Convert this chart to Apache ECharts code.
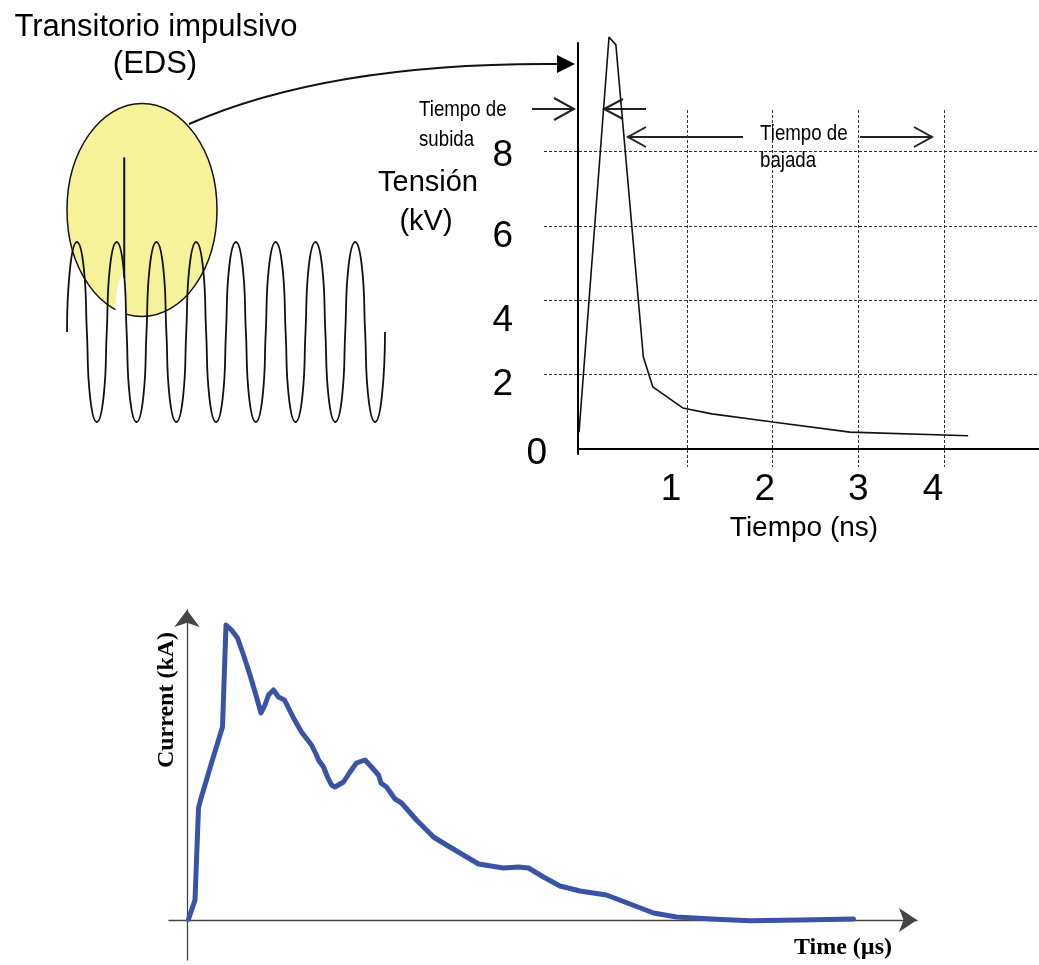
<!DOCTYPE html>
<html><head><meta charset="utf-8">
<script src="https://cdn.jsdelivr.net/npm/echarts@6/dist/echarts.min.js"></script>
<style>html,body{margin:0;padding:0;background:#fff}#c{width:1039px;height:965px}</style>
</head><body><div id="c"></div>
<script>
// ---------- DATA ----------
// Top-right: impulsive transient (ESD) pulse, time in ns, voltage in kV
const pulseTime = [-0.26, 0.09, 0.17, 0.49, 0.60, 0.95, 1.29, 2.00, 2.90, 4.28];
const pulseKV   = [0.44, 11.08, 10.87, 2.47, 1.66, 1.09, 0.93, 0.71, 0.44, 0.34];
const voltTickValues = [0, 2, 4, 6, 8];
const voltTickLabels = ['0', '2', '4', '6', '8'];
const timeTickValues = [1, 2, 3, 4];
const timeTickLabels = ['1', '2', '3', '4'];

// Top-left: power-frequency wave (in cycles, per-unit amplitude) with the spike
const waveX = [0,0.08,0.25,0.42,0.5,0.58,0.75,0.92,
  1,1.08,1.25,1.42,1.5,1.58,1.75,1.92,
  2,2.08,2.25,2.42,2.5,2.58,2.75,2.92,
  3,3.08,3.25,3.42,3.5,3.58,3.75,3.92,
  4,4.08,4.25,4.42,4.5,4.58,4.75,4.92,
  5,5.08,5.25,5.42,5.5,5.58,5.75,5.92,
  6,6.08,6.25,6.42,6.5,6.58,6.75,6.92,
  7,7.08,7.25,7.42,7.5,7.58,7.75,7.92,
  8];
const waveY = [0,0.72,1,0.72,0,-0.72,-1,-0.72,
  0,0.72,1,0.72,0,-0.72,-1,-0.72,
  0,0.72,1,0.72,0,-0.72,-1,-0.72,
  0,0.72,1,0.72,0,-0.72,-1,-0.72,
  0,0.72,1,0.72,0,-0.72,-1,-0.72,
  0,0.72,1,0.72,0,-0.72,-1,-0.72,
  0,0.72,1,0.72,0,-0.72,-1,-0.72,
  0,0.72,1,0.72,0,-0.72,-1,-0.72,
  0];
const spikeX = [1.44, 1.44];
const spikeY = [0.60, 1.94];

// Bottom: lightning current, time in µs, current in kA
const currentTime = [0.03,0.16,0.23,0.27,0.49,0.63,0.71,0.78,0.81,0.89,1.01,1.13,1.26,1.39,1.48,1.56,1.63,1.73,1.83,1.95,2.03,2.13,2.29,2.49,2.59,2.63,2.73,2.81,2.89,2.96,3.13,3.26,3.39,3.56,3.69,3.83,3.88,3.99,4.16,4.29,4.59,4.93,5.19,5.46,5.83,6.33,6.63,6.83,7.13,7.46,7.86,8.39,8.86,9.33,9.79,10.59,11.26,12.26,13.33];
const currentKA   = [0.07,2.0,11.2,12.0,15.7,18.0,19.3,29.5,29.7,29.0,28.2,26.5,24.5,22.3,20.7,21.5,22.5,23.0,22.3,22.0,21.2,20.2,18.8,17.5,16.5,16.0,15.3,14.3,13.5,13.3,13.8,14.8,15.7,16.0,15.3,14.5,13.7,13.3,12.1,11.7,10.0,8.3,7.5,6.7,5.6,5.2,5.3,5.2,4.3,3.4,2.9,2.5,1.6,0.7,0.3,0.07,-0.07,0.0,0.1];

// ---------- STYLE HELPERS ----------
const SANS = '"Liberation Sans", Arial, sans-serif';
const SERIF = '"Liberation Serif", "Times New Roman", serif';
const yShift = {0: [5, 0], 2: [11, 34], 4: [21, 34], 6: [11, 34], 8: [4, 34]}; // [down, left]
const xShift = {1: 16, 2: 8, 3: 0, 4: 11};
const yRich = {}, xRich = {};
voltTickValues.forEach((v, i) => {
  yRich['t' + i] = {fontSize: 37, fontFamily: SANS, color: '#000', padding: [2 * yShift[v][0], yShift[v][1], 0, 0]};
});
timeTickValues.forEach((v, i) => {
  xRich['t' + i] = {fontSize: 37, fontFamily: SANS, color: '#000', padding: [0, 2 * xShift[v], 0, 0]};
});
const dash = {color: '#333', width: 1, type: [3, 2]};
const hidden = {show: false};

function openArrow(tipX, tipY, dir, len, half, tailX) {
  return [
    {type: 'polyline', shape: {points: [[tailX, tipY], [tipX, tipY]]}, style: {stroke: '#222', lineWidth: 2, fill: null}},
    {type: 'polyline', shape: {points: [[tipX - dir * len, tipY - half], [tipX, tipY], [tipX - dir * len, tipY + half]]}, style: {stroke: '#222', lineWidth: 2, fill: null}}
  ];
}
function txt(x, y, text, size, opts) {
  opts = opts || {};
  return {type: 'text', x: x, y: y, rotation: opts.rotation || 0, scaleX: opts.scaleX || 1, z: 100,
    style: {text: text, fontSize: size, fontFamily: opts.family || SANS, fontWeight: opts.weight || 'normal',
      fill: '#000', align: opts.align || 'center', verticalAlign: 'middle'}};
}

const graphics = [
  {type: 'ellipse', shape: {cx: 142, cy: 210, rx: 75, ry: 106.5}, style: {fill: '#F6F29A', stroke: '#111', lineWidth: 1.5}},
  {type: 'polygon', shape: {points: [[115, 320], [116, 296], [119, 280], [123, 274], [126, 276], [127, 320]]}, style: {fill: '#fff'}},
  {type: 'bezierCurve', shape: {x1: 189, y1: 124, cpx1: 330, cpy1: 62, x2: 560, y2: 64}, style: {stroke: '#111', lineWidth: 2, fill: null}},
  {type: 'polygon', shape: {points: [[557, 55], [575, 64], [557, 73]]}, style: {fill: '#000'}},
  ...openArrow(574, 109, 1, 20, 11, 532),
  ...openArrow(604, 109, -1, 19, 10, 646),
  ...openArrow(628, 137, -1, 18, 10, 743),
  ...openArrow(932, 137, 1, 18, 10, 860),
  txt(156, 27, 'Transitorio impulsivo', 31),
  txt(155, 64, '(EDS)', 31),
  txt(428, 183, 'Tensión', 29),
  txt(426, 222, '(kV)', 29),
  txt(804, 528, 'Tiempo (ns)', 28),
  txt(419, 110, 'Tiempo de', 22, {align: 'left', scaleX: 0.85}),
  txt(419, 140, 'subida', 22, {align: 'left', scaleX: 0.85}),
  txt(760, 134, 'Tiempo de', 22, {align: 'left', scaleX: 0.85}),
  txt(760, 161, 'bajada', 22, {align: 'left', scaleX: 0.85}),
  txt(167, 700, 'Current (kA)', 24, {family: SERIF, weight: 'bold', rotation: Math.PI / 2}),
  txt(843, 948, 'Time (µs)', 24, {family: SERIF, weight: 'bold'})
];

const option = {
  backgroundColor: '#fff',
  animation: false,
  grid: [
    {left: 578, top: 43, width: 461, height: 411, outerBoundsMode: 'none'},
    {left: 544, top: 114.5, width: 495, height: 334, outerBoundsMode: 'none'},
    {left: 601.3, top: 110, width: 419.9, height: 357, outerBoundsMode: 'none'},
    {left: 67, top: 242, width: 318, height: 180, outerBoundsMode: 'none'},
    {left: 169, top: 610, width: 748, height: 350, outerBoundsMode: 'none'}
  ],
  xAxis: [
    {gridIndex: 0, type: 'value', min: -0.272, max: 5.107,
      axisLine: {show: true, onZero: true, lineStyle: {color: '#000', width: 2}},
      axisTick: hidden, axisLabel: hidden, splitLine: hidden},
    {gridIndex: 1, type: 'value', min: -0.669, max: 5.107, show: false},
    {gridIndex: 2, type: 'value', min: 0, max: 4.9, interval: 1,
      axisLine: hidden, axisTick: hidden,
      splitLine: {show: true, showMinLine: false, showMaxLine: false, lineStyle: dash},
      axisLabel: {show: true, showMinLabel: false, showMaxLabel: false, margin: 4, fontSize: 37, fontFamily: SANS, color: '#000',
        formatter: v => { const i = timeTickValues.indexOf(v); return i < 0 ? '' : '{t' + i + '|' + timeTickLabels[i] + '}'; },
        rich: xRich}},
    {gridIndex: 3, type: 'value', min: 0, max: 8, show: false},
    {gridIndex: 4, type: 'value', min: -0.36, max: 14.6,
      axisLine: {show: true, onZero: true, symbol: ['none', 'arrow'], symbolSize: [18, 18], lineStyle: {color: '#444', width: 1.3}},
      axisTick: hidden, axisLabel: hidden, splitLine: hidden}
  ],
  yAxis: [
    {gridIndex: 0, type: 'value', min: -0.15, max: 10.92,
      axisLine: {show: true, onZero: false, lineStyle: {color: '#000', width: 2}},
      axisTick: hidden, axisLabel: hidden, splitLine: hidden},
    {gridIndex: 1, type: 'value', min: 0, max: 9, interval: 2,
      axisLine: hidden, axisTick: hidden,
      splitLine: {show: true, showMinLine: false, showMaxLine: false, lineStyle: dash},
      axisLabel: {show: true, showMinLabel: true, margin: -3, fontSize: 37, fontFamily: SANS, color: '#000',
        formatter: v => { const i = voltTickValues.indexOf(v); return i < 0 ? '' : '{t' + i + '|' + voltTickLabels[i] + '}'; },
        rich: yRich}},
    {gridIndex: 2, type: 'value', min: 0, max: 1, show: false},
    {gridIndex: 3, type: 'value', min: -1, max: 1, show: false},
    {gridIndex: 4, type: 'value', min: -4, max: 31,
      axisLine: {show: true, onZero: true, symbol: ['none', 'arrow'], symbolSize: [19, 17], lineStyle: {color: '#444', width: 1.3}},
      axisTick: hidden, axisLabel: hidden, splitLine: hidden}
  ],
  series: [
    {type: 'line', xAxisIndex: 0, yAxisIndex: 0, clip: false, symbol: 'none', z: 5,
      lineStyle: {color: '#111', width: 1.6}, data: pulseTime.map((t, i) => [t, pulseKV[i]])},
    {type: 'line', xAxisIndex: 3, yAxisIndex: 3, clip: false, symbol: 'none', smooth: 0.45,
      lineStyle: {color: '#111', width: 1.8}, data: waveX.map((x, i) => [x, waveY[i]])},
    {type: 'line', xAxisIndex: 3, yAxisIndex: 3, clip: false, symbol: 'none',
      lineStyle: {color: '#111', width: 2}, data: spikeX.map((x, i) => [x, spikeY[i]])},
    {type: 'line', xAxisIndex: 4, yAxisIndex: 4, clip: false, symbol: 'none', z: 5,
      lineStyle: {color: '#3954A5', width: 5, join: 'round', cap: 'round'}, data: currentTime.map((t, i) => [t, currentKA[i]])}
  ],
  graphic: graphics
};
const chart = echarts.init(document.getElementById('c'), null, {renderer: 'canvas', width: 1039, height: 965});
chart.setOption(option);
</script>
</body></html>
